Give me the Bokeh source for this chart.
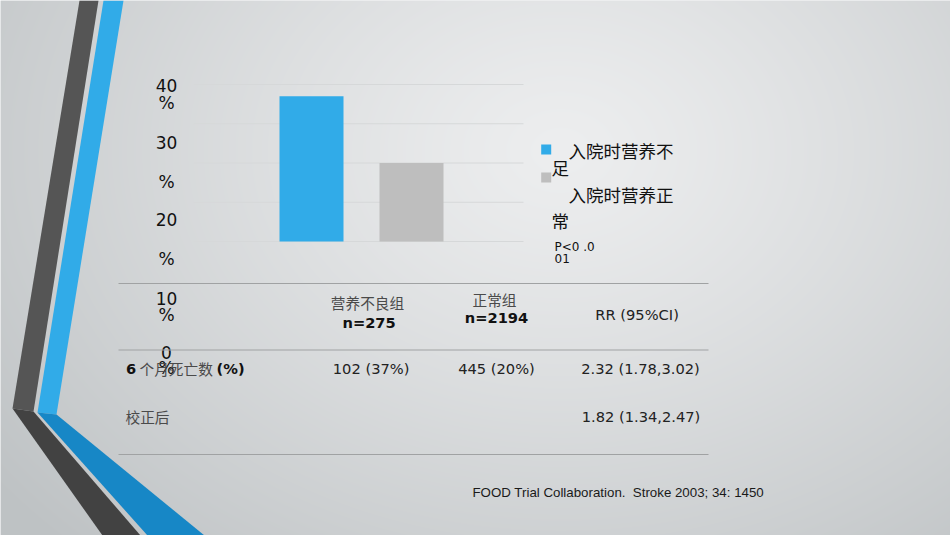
import numpy as np
from bokeh.plotting import figure
from bokeh.models import Range1d
from bokeh.core.properties import value
from bokeh.embed import file_html
from bokeh.resources import INLINE

# ---------------- data ----------------
series_names = ["入院时营养不足", "入院时营养正常"]
mortality_pct = [37, 20]
series_colors = ["#31abe8", "#bebebe"]
y_ticks = [0, 10, 20, 30, 40]
p_value_text = ["P<0 .0", "01"]

table_groups = ["营养不良组", "正常组"]
table_n = [275, 2194]
table_deaths = [102, 445]
table_death_pct = [37, 20]
rr_header = "RR (95%CI)"
rr_values = ["2.32 (1.78,3.02)", "1.82 (1.34,2.47)"]
row_label_parts = ["6", "个月死亡数", "(%)"]
adjusted_label = "校正后"
citation = "FOOD Trial Collaboration.  Stroke 2003; 34: 1450"

# ---------------- layout ----------------
W, H = 950, 535
plot_left, plot_right = 193, 523
base_px, top_px = 241, 84          # pixel rows of 0 % and 40 %
bar_c0, bar_step, bar_w_px = 311, 100, 64

px_per_pct = (base_px - top_px) / max(y_ticks)
pct_range = Range1d(start=-(H - base_px) / px_per_pct, end=base_px / px_per_pct)
cat_range = Range1d(start=-bar_c0 / bar_step, end=(W - bar_c0) / bar_step)

p = figure(width=W, height=H, x_range=Range1d(0, W), y_range=Range1d(H, 0),
           min_border=0, toolbar_location=None, output_backend="svg",
           x_axis_location=None, y_axis_location=None)
p.extra_y_ranges = {"pct": pct_range}
p.extra_x_ranges = {"cat": cat_range}
p.grid.visible = False
p.outline_line_color = None
p.background_fill_color = "#e4e6e7"
p.border_fill_color = "#e4e6e7"

# background gradient
yy, xx = np.mgrid[0:H, 0:W].astype(float)
d = np.sqrt((xx - 560) ** 2 + ((yy - 150) * 1.3) ** 2)
t = np.clip(d / 720.0, 0, 1) ** 1.2
light = np.array([237, 238, 239], float)
dark = np.array([190, 194, 196], float)
img = np.empty((H, W), dtype=np.uint32)
view = img.view(dtype=np.uint8).reshape((H, W, 4))
for k in range(3):
    view[:, :, k] = (light[k] * (1 - t) + dark[k] * t).astype(np.uint8)
view[:, :, 3] = 255
p.image_rgba(image=[img], x=0, y=0, dw=W, dh=H)

# decorative stripes
p.patches(xs=[[79, 98, 33, 12], [12, 33, 140, 102]],
          ys=[[0, 0, 411, 408], [408, 411, 535, 535]],
          fill_color=["#555555", "#424242"], line_color=None)
p.patches(xs=[[103, 123, 56, 37], [37, 56, 204, 147]],
          ys=[[0, 0, 414, 412], [412, 414, 535, 535]],
          fill_color=["#31abe8", "#1787c6"], line_color=None)

# gridlines
p.segment(x0=plot_left, x1=plot_right, y0=y_ticks, y1=y_ticks,
          y_range_name="pct", line_color="#d6d8d9", line_width=1)

# bars
p.vbar(x=list(range(len(mortality_pct))), top=mortality_pct, bottom=0,
       width=bar_w_px / bar_step, fill_color=series_colors, line_color=None,
       x_range_name="cat", y_range_name="pct")

# y tick labels (wrapped as in the slide)
ylab_lines, ylab_y = [], [84.5, 102.5, 141.5, 181, 219, 258, 298, 314.5, 352, 367.5]
for tk in sorted(y_ticks, reverse=True):
    ylab_lines += [str(tk), "%"]
p.text(x=166, y=ylab_y, text=ylab_lines, text_font=value("DejaVu Sans"),
       text_font_size="17px", text_align="center", text_baseline="middle",
       text_color="#111111")

# legend
p.rect(x=545.7, y=[149, 177], width=10, height=10, fill_color=series_colors, line_color=None)
leg_lines = [series_names[0][:6], series_names[0][6:], series_names[1][:6], series_names[1][6:]]
p.text(x=[568, 551, 568, 551], y=[149.5, 167, 194, 219.5], text=leg_lines,
       text_font=value("Noto Sans CJK SC"), text_font_size="17.5px",
       text_align="left", text_baseline="middle", text_color="#111111")
p.text(x=554, y=[246.7, 257.5], text=p_value_text, text_font=value("DejaVu Sans"),
       text_font_size="12px", text_align="left", text_baseline="middle",
       text_color="#111111")

# table rules
p.segment(x0=118, x1=708, y0=[283, 349.5, 454], y1=[283, 349.5, 454],
          line_color="#a0a2a3", line_width=1)

# table header
p.text(x=[367, 494], y=[302, 299], text=table_groups, text_font=value("Noto Sans CJK SC"),
       text_font_size="14.67px", text_align="center", text_baseline="middle",
       text_color="#4a4a4a")
p.text(x=[368.6, 496], y=[322, 317], text=[f"n={n}" for n in table_n],
       text_font=value("DejaVu Sans"), text_font_size="14.67px", text_font_style="bold",
       text_align="center", text_baseline="middle", text_color="#111111")
p.text(x=636.6, y=314, text=[rr_header], text_font=value("DejaVu Sans"),
       text_font_size="14.67px", text_align="center", text_baseline="middle",
       text_color="#222222")

# row 1
p.text(x=[125.5, 216], y=368, text=[row_label_parts[0], row_label_parts[2]],
       text_font=value("DejaVu Sans"), text_font_size="14.67px", text_font_style="bold",
       text_align="left", text_baseline="middle", text_color="#111111")
p.text(x=139, y=368, text=[row_label_parts[1]], text_font=value("Noto Sans CJK SC"),
       text_font_size="14.67px", text_align="left", text_baseline="middle",
       text_color="#4a4a4a")
p.text(x=[370.6, 496, 640], y=367.5,
       text=[f"{table_deaths[i]} ({table_death_pct[i]}%)" for i in range(2)] + [rr_values[0]],
       text_font=value("DejaVu Sans"), text_font_size="14.67px",
       text_align="center", text_baseline="middle", text_color="#222222")

# row 2
p.text(x=125, y=415.5, text=[adjusted_label], text_font=value("Noto Sans CJK SC"),
       text_font_size="14.67px", text_align="left", text_baseline="middle",
       text_color="#4a4a4a")
p.text(x=640.5, y=415.5, text=[rr_values[1]], text_font=value("DejaVu Sans"),
       text_font_size="14.67px", text_align="center", text_baseline="middle",
       text_color="#222222")

# citation (keep the double space visible)
p.text(x=472, y=492, text=[citation.replace("  ", " \u00a0")], text_font=value("Liberation Sans"),
       text_font_size="13.3px", text_align="left", text_baseline="middle",
       text_color="#1a1a1a")

open("out.html", "w").write(file_html(p, INLINE))
